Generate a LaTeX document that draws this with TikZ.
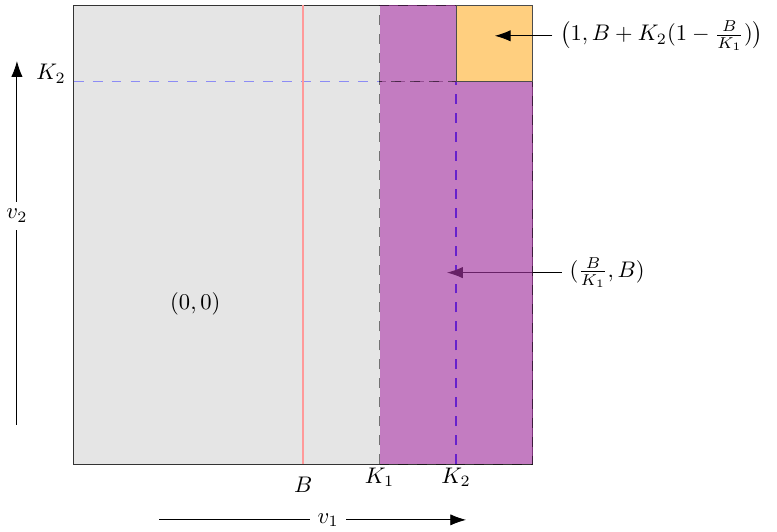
\documentclass[tikz,border=0pt]{standalone}
\usepackage{amsmath}
\usetikzlibrary{arrows.meta}
\definecolor{regpurple}{RGB}{173,55,170}
\definecolor{regorange}{RGB}{255,207,127}
\definecolor{guideblue}{RGB}{140,140,245}
\begin{document}
\begin{tikzpicture}[x=7.15cm,y=7.15cm,
  flow/.style={-{Latex[length=7pt,width=5pt]}},
  guide/.style={line width=0.6pt,dash pattern=on 4.4pt off 4pt},
  region/.style={fill=regpurple,fill opacity=0.6,draw=black,draw opacity=0.5,
    dash pattern=on 4.4pt off 4pt},
  tick/.style={below,inner sep=1.5pt}
]
  \useasboundingbox (-0.1605,-0.146) rectangle (1.5325,1.011);
  % base square
  \filldraw[fill=black!10,draw=black!80] (0,0) rectangle (1,1);
  \draw[guide,guideblue] (0,5/6)--(2/3,5/6);
  \draw[red!40,line width=0.7pt] (0.5,0)--(0.5,1);
  \draw[guide,blue] (5/6,0)--(5/6,5/6);

  \node[anchor=west] (lblB) at (1.063,0.417) {$(\frac{B}{K_1},B)$};
  \coordinate (tipB) at (0.8134,0.417);
  \draw[flow] (lblB.west)--(tipB);

  % allocation regions
  \path[region] (2/3,0) rectangle (1,5/6);
  \path[region] (2/3,5/6) rectangle (5/6,1);
  \filldraw[fill=regorange,draw=black!70] (5/6,5/6) rectangle (1,1);

  \node[anchor=west] (lblA) at (1.043,0.933)
    {$\bigl(1,B+K_2(1-\frac{B}{K_1})\bigr)$};
  \coordinate (tipA) at (0.9176,0.933);
  \draw[flow] (lblA.west)--(tipA);

  \node (zero) at (0.265,0.35) {$(0,0)$};
  \node (bval) at (0.5,-0.046) {$B$};
  \node[tick] (kone) at (2/3,0) {$K_1$};
  \node[tick] (ktwo) at (5/6,0) {$K_2$};
  \node[left] (ktwoy) at (0,0.85) {$K_2$};

  % axes
  \coordinate (vone0) at (0.187,-0.1217);
  \coordinate (vone1) at (0.855,-0.1217);
  \draw[flow] (vone0)-- node[pos=0.55,fill=white] (vone) {$v_1$} (vone1);
  \coordinate (vtwo0) at (-0.1236,0.085);
  \coordinate (vtwo1) at (-0.1236,0.878);
  \draw[flow] (vtwo0)-- node[pos=0.575,fill=white] (vtwo) {$v_2$} (vtwo1);
\end{tikzpicture}
\end{document}
